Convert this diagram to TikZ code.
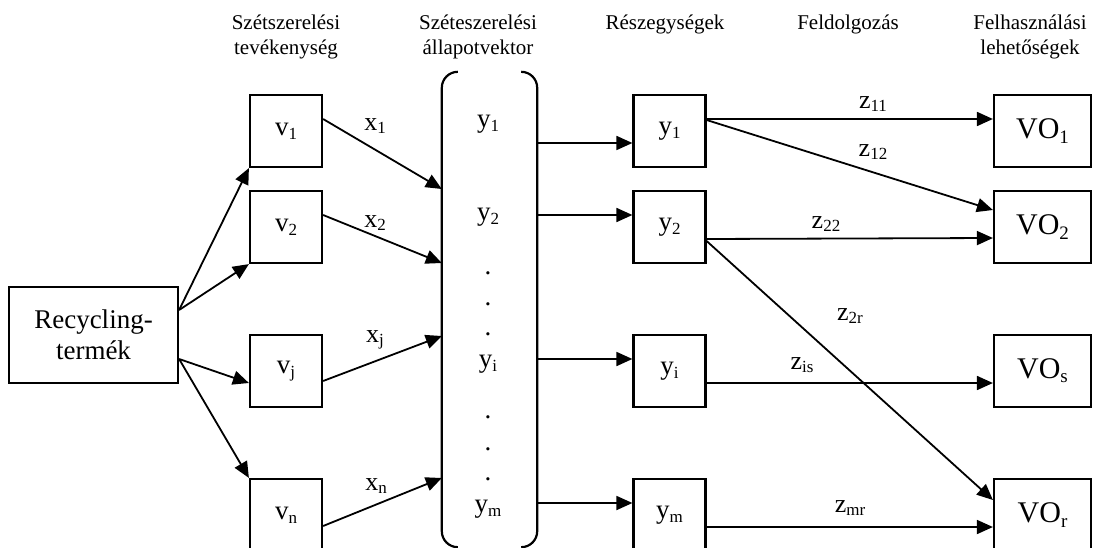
\documentclass[tikz,border=0pt]{standalone}
\usepackage{fontspec}
\setmainfont{Liberation Serif}
\usetikzlibrary{arrows.meta,calc}
\newcommand\sbs[1]{\raisebox{-0.14em}{\fontsize{17}{17}\selectfont #1}}
\newcommand\sbv[1]{\raisebox{-0.14em}{\fontsize{19}{19}\selectfont #1}}
\begin{document}
\begin{tikzpicture}[x=1pt,y=-1pt,
  box/.style={draw,line width=2.2pt,minimum width=72pt,minimum height=72pt,inner sep=0pt,font=\fontsize{27}{31}\selectfont},
  vobox/.style={box,minimum width=97pt,font=\fontsize{30}{34}\selectfont},
  arr/.style={line width=1.8pt,-{Triangle[length=16pt,width=14pt]}},
  hdr/.style={font=\fontsize{21}{25}\selectfont,align=center,anchor=north,inner sep=0pt},
  lbl/.style={font=\fontsize{26}{28}\selectfont,inner sep=0pt},
  vt/.style={font=\fontsize{27}{31}\selectfont,inner sep=0pt},
  dotn/.style={font=\fontsize{27}{31}\selectfont,inner sep=0pt,anchor=base},
  brk/.style={line width=2.2pt,rounded corners=16pt}
]
\useasboundingbox (0,0) rectangle (1094,548);

% headers
\node[hdr] (h1) at (286,15) {Szétszerelési\\tevékenység};
\node[hdr] (h2) at (478,15) {Széteszerelési\\állapotvektor};
\node[hdr] (h3) at (665,15) {Részegységek};
\node[hdr] (h4) at (848,15) {Feldolgozás};
\node[hdr] (h5) at (1030,15) {Felhasználási\\lehetőségek};

% source
\node[box,minimum width=169pt,minimum height=96pt,align=center] (rec) at (93.5,335) {Recycling-\\termék};

% v column
\node[box] (v1) at (286,131) {v\sbs{1}};
\node[box] (v2) at (286,227) {v\sbs{2}};
\node[box] (vj) at (286,371) {v\sbs{j}};
\node[box] (vn) at (286,515) {v\sbs{n}};

% state vector bracket
\node[minimum width=95pt,minimum height=475pt,inner sep=0pt] (vec) at (489.5,309.5) {};
\draw[brk] ($(vec.north west)+(16,0)$) -- (vec.north west) -- (vec.south west) -- ($(vec.south west)+(16,0)$);
\draw[brk] ($(vec.north east)+(-16,0)$) -- (vec.north east) -- (vec.south east) -- ($(vec.south east)+(-16,0)$);
\node[vt] (s1) at (488,124) {y\sbs{1}};
\node[vt] (s2) at (488,217) {y\sbs{2}};
\node[vt] (si) at (488,364) {y\sbs{i}};
\node[vt] (sm) at (488,509) {y\sbs{m}};
\node[dotn] (d1) at (488,274) {.};
\node[dotn] (d2) at (488,305) {.};
\node[dotn] (d3) at (488,335) {.};
\node[dotn] (d4) at (488,418) {.};
\node[dotn] (d5) at (488,450) {.};
\node[dotn] (d6) at (488,480) {.};

% y column
\node[box] (r1) at (669.5,131) {y\sbs{1}};
\node[box] (r2) at (669.5,227) {y\sbs{2}};
\node[box] (ri) at (669.5,371) {y\sbs{i}};
\node[box] (rm) at (669.5,515) {y\sbs{m}};

% VO column
\node[vobox] (vo1) at (1042.5,131) {VO\sbv{1}};
\node[vobox] (vo2) at (1042.5,227) {VO\sbv{2}};
\node[vobox] (vos) at (1042.5,371) {VO\sbv{s}};
\node[vobox] (vor) at (1042.5,515) {VO\sbv{r}};

% source arrows
\coordinate (ra) at ($(rec.east)+(0,-25)$);
\coordinate (rb) at ($(rec.east)+(0,24)$);
\draw[arr] (ra) -- (v1.south west);
\draw[arr] (ra) -- (v2.south west);
\draw[arr] (rb) -- ($(vj.west)+(0,12)$);
\draw[arr] (rb) -- (vn.north west);

% into bracket
\coordinate (in1) at ($(vec.west)+(0,-120.5)$);
\coordinate (in2) at ($(vec.west)+(0,-46.5)$);
\coordinate (in3) at ($(vec.west)+(0,26.5)$);
\coordinate (in4) at ($(vec.west)+(0,168.5)$);
\draw[arr] ($(v1.east)+(0,-12)$) -- (in1);
\draw[arr] ($(v2.east)+(0,-12)$) -- (in2);
\draw[arr] ($(vj.east)+(0,10)$) -- (in3);
\draw[arr] ($(vn.east)+(0,11)$) -- (in4);
\node[lbl] (x1) at (375,126) {x\sbs{1}};
\node[lbl] (x2) at (375,223) {x\sbs{2}};
\node[lbl] (xj) at (375,340) {x\sbs{j}};
\node[lbl] (xn) at (376,486) {x\sbs{n}};

% out of bracket
\coordinate (o1) at ($(r1.west)+(0,12)$);
\coordinate (o2) at ($(r2.west)+(0,-12)$);
\coordinate (o3) at ($(ri.west)+(0,-12)$);
\coordinate (o4) at ($(rm.west)+(0,-12)$);
\draw[arr] (vec.east |- o1) -- (o1);
\draw[arr] (vec.east |- o2) -- (o2);
\draw[arr] (vec.east |- o3) -- (o3);
\draw[arr] (vec.east |- o4) -- (o4);

% processing arrows
\draw[arr] ($(r1.east)+(0,-12)$) -- ($(vo1.west)+(0,-12)$);
\draw[arr] ($(r1.east)+(0,-11)$) -- ($(vo2.west)+(0,-17)$);
\draw[arr] ($(r2.east)+(0,12)$) -- ($(vo2.west)+(0,11)$);
\draw[arr] ($(r2.east)+(0,14)$) -- ($(vor.west)+(0,-15)$);
\draw[arr] ($(ri.east)+(0,12)$) -- ($(vos.west)+(0,12)$);
\draw[arr] ($(rm.east)+(0,12)$) -- ($(vor.west)+(0,12)$);
\node[lbl] (z11) at (873,104) {z\sbs{11}};
\node[lbl] (z12) at (873,152) {z\sbs{12}};
\node[lbl] (z22) at (826,224) {z\sbs{22}};
\node[lbl] (z2r) at (850,316) {z\sbs{2r}};
\node[lbl] (zis) at (802,365) {z\sbs{is}};
\node[lbl] (zmr) at (850,508) {z\sbs{mr}};
\end{tikzpicture}
\end{document}
